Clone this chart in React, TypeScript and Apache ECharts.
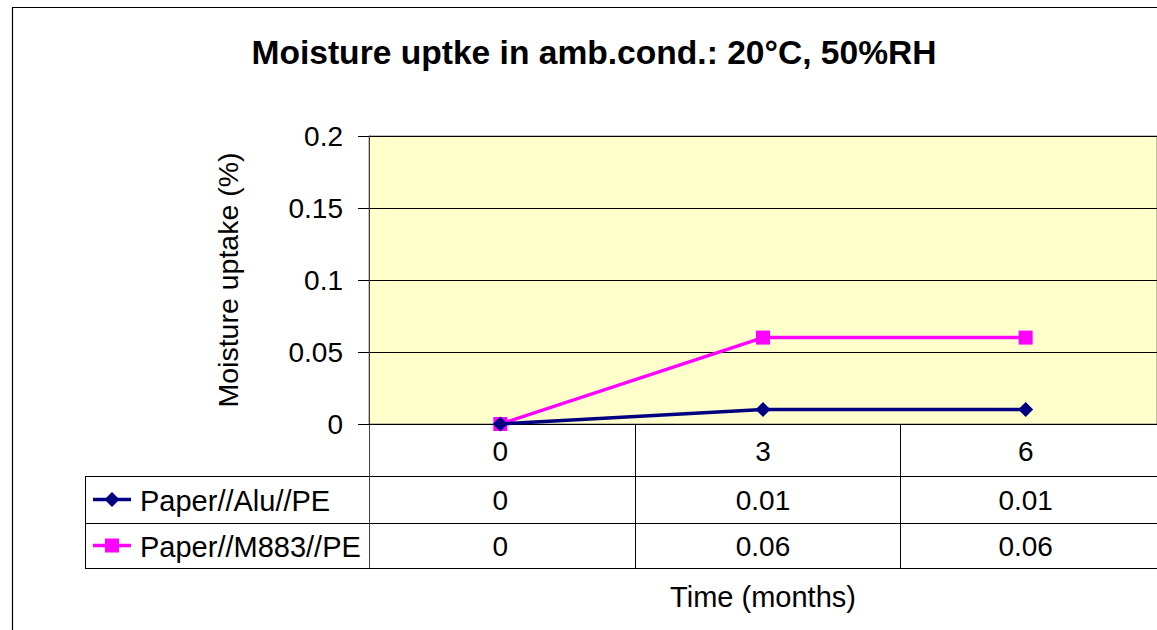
import React, { useEffect, useRef } from "react";
import * as echarts from "echarts";

const chartTitle = "Moisture uptke in amb.cond.: 20°C, 50%RH";
const months = ["0", "3", "6"];
const seriesNames = ["Paper//Alu//PE", "Paper//M883//PE"];
const aluValues = [0, 0.01, 0.01];
const m883Values = [0, 0.06, 0.06];
const seriesColors = ["#000080", "#FF00FF"];
const yMin = 0;
const yMax = 0.2;
const yInterval = 0.05;
const yName = "Moisture uptake (%)";
const xName = "Time (months)";

const FONT = "'Liberation Sans', Arial, sans-serif";
const GRID_LEFT = 369;
const GRID_TOP = 136;
const GRID_W = 796.5;
const GRID_H = 288;
const AXIS_Y = GRID_TOP + GRID_H;
const ROW_BOTTOMS = [476, 523, 568];
const TABLE_LEFT = 85;
const FS = 28;

export default function App() {
  const ref = useRef<HTMLDivElement>(null);
  useEffect(() => {
    if (!ref.current) return;
    const chart = echarts.init(ref.current, undefined, { renderer: "svg" });
    const allValues = [aluValues, m883Values];
    chart.setOption({
      animation: false,
      backgroundColor: "#ffffff",
      title: {
        text: chartTitle,
        left: 589,
        top: 30,
        textAlign: "center",
        textStyle: { fontFamily: FONT, fontSize: 33.6, fontWeight: "bold", color: "#000" },
      },
      grid: {
        left: GRID_LEFT,
        top: GRID_TOP,
        width: GRID_W,
        height: GRID_H,
        show: true,
        backgroundColor: "#FFFFCC",
        borderColor: "#808080",
        borderWidth: 1,
      },
      xAxis: {
        type: "category",
        data: months,
        boundaryGap: true,
        axisLine: { show: true, lineStyle: { color: "#000", width: 1 } },
        axisTick: { show: false },
        axisLabel: { fontFamily: FONT, fontSize: FS, color: "#000", margin: 13 },
        splitLine: { show: false },
        name: xName,
        nameLocation: "middle",
        nameGap: 158,
        nameTextStyle: { fontFamily: FONT, fontSize: 29, color: "#000" },
      },
      yAxis: {
        type: "value",
        min: yMin,
        max: yMax,
        interval: yInterval,
        axisLine: { show: true, lineStyle: { color: "#404040", width: 1 } },
        axisTick: { show: true, length: 11, lineStyle: { color: "#000" } },
        axisLabel: { fontFamily: FONT, fontSize: FS, color: "#000", margin: 26 },
        splitLine: { show: true, lineStyle: { color: "#000", width: 1 } },
        name: yName,
        nameLocation: "middle",
        nameGap: 127,
        nameTextStyle: { fontFamily: FONT, fontSize: 28.5, color: "#000" },
      },
      series: [
        {
          name: seriesNames[0],
          type: "line",
          data: aluValues,
          symbol: "diamond",
          symbolSize: 15,
          lineStyle: { color: seriesColors[0], width: 3.5 },
          itemStyle: { color: seriesColors[0] },
          z: 3,
        },
        {
          name: seriesNames[1],
          type: "line",
          data: m883Values,
          symbol: "rect",
          symbolSize: 14,
          lineStyle: { color: seriesColors[1], width: 3.5 },
          itemStyle: { color: seriesColors[1] },
          z: 2,
        },
      ],
    });

    const xs = months.map((m) => chart.convertToPixel({ xAxisIndex: 0 }, m) as number);
    const colW = GRID_W / months.length;
    const gridRight = GRID_LEFT + GRID_W;
    const lineStyle = { stroke: "#000", lineWidth: 1 };
    const graphics: any[] = [];
    graphics.push({
      type: "rect",
      shape: { x: 12.5, y: 7.5, width: 1400, height: 900 },
      style: { fill: "none", stroke: "#000", lineWidth: 1.2 },
      silent: true,
      z: 100,
    });
    ROW_BOTTOMS.forEach((y) => {
      graphics.push({
        type: "line",
        shape: { x1: TABLE_LEFT, y1: y + 0.5, x2: gridRight, y2: y + 0.5 },
        style: lineStyle,
        silent: true,
      });
    });
    graphics.push({
      type: "line",
      shape: { x1: TABLE_LEFT + 0.5, y1: ROW_BOTTOMS[0], x2: TABLE_LEFT + 0.5, y2: ROW_BOTTOMS[2] },
      style: lineStyle,
      silent: true,
    });
    for (let k = 0; k <= months.length; k++) {
      const x = Math.round(GRID_LEFT + k * colW) + 0.5;
      graphics.push({
        type: "line",
        shape: { x1: x, y1: AXIS_Y, x2: x, y2: ROW_BOTTOMS[2] },
        style: { stroke: k === 0 ? "#404040" : "#000", lineWidth: 1 },
        silent: true,
      });
    }
    allValues.forEach((vals, r) => {
      const top = ROW_BOTTOMS[r];
      const bottom = ROW_BOTTOMS[r + 1];
      const cy = (top + bottom) / 2;
      vals.forEach((v, i) => {
        graphics.push({
          type: "text",
          x: xs[i],
          y: cy + 1,
          style: {
            text: String(v),
            fontFamily: FONT,
            fontSize: FS,
            fill: "#000",
            align: "center",
            verticalAlign: "middle",
          },
          silent: true,
        });
      });
      const color = seriesColors[r];
      graphics.push({
        type: "line",
        shape: { x1: 93, y1: cy, x2: 131, y2: cy },
        style: { stroke: color, lineWidth: 3.5 },
        silent: true,
      });
      if (r === 0) {
        graphics.push({
          type: "polygon",
          shape: { points: [[112, cy - 7.5], [119.5, cy], [112, cy + 7.5], [104.5, cy]] },
          style: { fill: color },
          silent: true,
        });
      } else {
        graphics.push({
          type: "rect",
          shape: { x: 105, y: cy - 7, width: 14, height: 14 },
          style: { fill: color },
          silent: true,
        });
      }
      graphics.push({
        type: "text",
        x: 140,
        y: cy + 1,
        style: {
          text: seriesNames[r],
          fontFamily: FONT,
          fontSize: 29,
          fill: "#000",
          align: "left",
          verticalAlign: "middle",
        },
        silent: true,
      });
    });
    chart.setOption({ graphic: graphics });

    return () => chart.dispose();
  }, []);
  return (
    <div
      ref={ref}
      style={{ position: "fixed", left: 0, top: 0, width: 1157, height: 630 }}
    />
  );
}
